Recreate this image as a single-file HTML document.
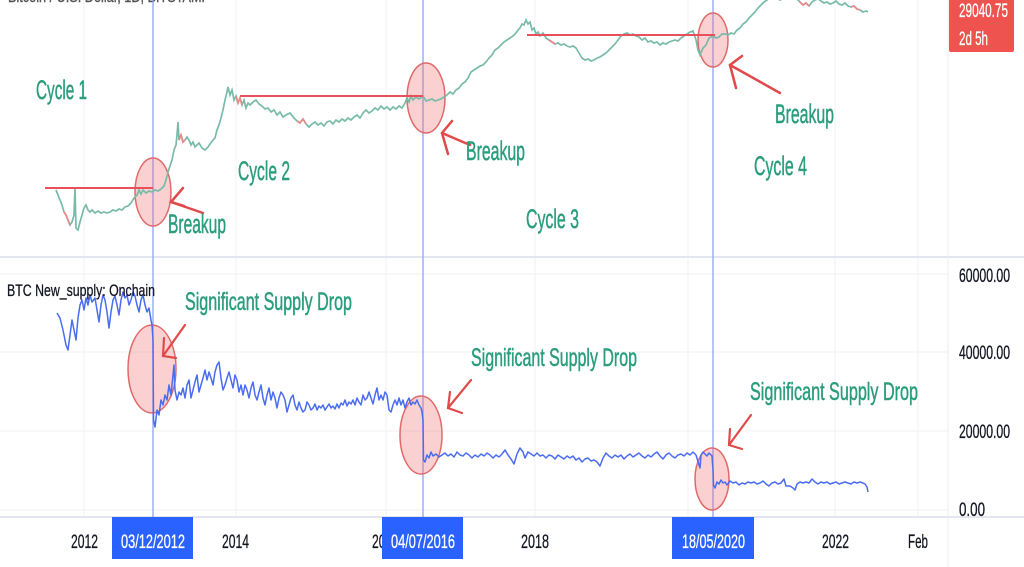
<!DOCTYPE html>
<html><head><meta charset="utf-8"><style>
html,body{margin:0;padding:0;background:#fff;width:1024px;height:567px;overflow:hidden}
svg{display:block}
text{font-family:"Liberation Sans Narrow","Liberation Sans",sans-serif}
.g{fill:#2a9d7c;font-size:27px;stroke:#2a9d7c;stroke-width:0.5}
.s{fill:#2a9d7c;font-size:25px;stroke:#2a9d7c;stroke-width:0.5}
.ax{fill:#131722;font-size:19px;stroke:#131722;stroke-width:0.3}
.w{fill:#fff;font-size:19px;stroke:#fff;stroke-width:0.3}
</style></head><body>
<svg width="1024" height="567" viewBox="0 0 1024 567" xmlns="http://www.w3.org/2000/svg">
<rect width="1024" height="567" fill="#fff"/>
<!-- grid -->
<g stroke="#f0f2f7" stroke-width="1">
<line x1="84" y1="0" x2="84" y2="517"/><line x1="236" y1="0" x2="236" y2="517"/>
<line x1="386" y1="0" x2="386" y2="517"/><line x1="535" y1="0" x2="535" y2="517"/>
<line x1="688" y1="0" x2="688" y2="517"/><line x1="835" y1="0" x2="835" y2="517"/>
<line x1="918" y1="0" x2="918" y2="517"/>
<line x1="0" y1="274" x2="948" y2="274"/><line x1="0" y1="352" x2="948" y2="352"/>
<line x1="0" y1="431" x2="948" y2="431"/><line x1="0" y1="510" x2="948" y2="510"/>
</g>
<line x1="0" y1="257" x2="1024" y2="257" stroke="#e3e6ee" stroke-width="2"/>
<line x1="0" y1="517" x2="1024" y2="517" stroke="#e3e6ee" stroke-width="2"/>
<line x1="948" y1="0" x2="948" y2="567" stroke="#eceef3" stroke-width="1"/>

<!-- title cut -->
<text x="8" y="2" font-size="16" fill="#555" stroke="#555" stroke-width="0.4" textLength="202" lengthAdjust="spacingAndGlyphs">Bitcoin / U.S. Dollar, 1D, BITSTAMP</text>

<!-- blue vertical lines -->
<g stroke="#8ea2f8" stroke-width="1.3">
<line x1="153" y1="0" x2="153" y2="517"/>
<line x1="423" y1="0" x2="423" y2="517"/>
<line x1="713" y1="0" x2="713" y2="517"/>
</g>

<!-- top circles -->
<g fill="rgba(240,110,110,0.32)" stroke="#e06a6a" stroke-width="1.5">
<ellipse cx="153" cy="192" rx="18" ry="34"/>
<ellipse cx="426" cy="98" rx="19" ry="35"/>
<ellipse cx="713" cy="40" rx="15" ry="27"/>
</g>

<!-- price line -->
<polyline fill="none" stroke="#79bba9" stroke-width="1.7" points="56,190 58,195 60,200 62,205 64,212 66,215 68,220 70,225 72,222 74,215 75,188 76,228 78,230 80,222 82,215 84,208 86,205 88,210 90,212 92,210 95,213 98,211 101,213 104,212 107,213 110,212 113,210 116,211 119,209 122,210 125,207 128,206 131,203 134,198 137,195 139,190 141,194 143,190 146,193 149,191 152,192 155,190 158,191 161,189 164,186 166,180 168,172 170,166 172,160 174,150 176,145 177,135 178,122 179,140 181,135 183,142 185,140 187,137 189,140 191,145 193,142 195,147 197,145 199,143 202,148 205,150 208,147 210,144 213,140 215,138 217,130 219,125 221,118 223,110 225,100 227,92 228,87 230,95 232,90 234,100 236,96 238,103 240,98 242,105 244,100 246,108 248,103 250,105 253,102 256,100 259,104 262,106 265,109 268,108 271,112 274,110 277,115 280,112 283,117 286,115 290,113 294,118 297,121 300,123 303,119 306,124 309,127 312,124 315,122 318,125 321,123 324,126 327,122 330,121 333,124 336,120 339,122 342,119 345,121 348,118 351,120 354,117 357,115 360,118 363,113 366,110 369,113 372,111 375,108 378,110 381,106 384,109 387,107 390,110 393,107 396,109 399,106 402,108 405,103 407,98 409,102 411,96 413,100 416,97 419,99 423,96 426,101 429,100 432,99 435,101 438,100 441,99 444,97 447,95 450,92 453,94 456,90 459,88 462,84 465,82 468,78 471,72 474,70 477,68 480,66 483,65 486,62 489,58 492,55 495,50 498,48 501,45 504,42 507,40 510,38 513,36 516,33 518,30 520,28 522,24 524,25 526,20 528,24 530,22 532,30 534,28 536,34 538,32 540,36 543,33 546,38 549,40 552,42 555,44 558,43 561,45 564,44 567,46 570,47 573,46 576,48 579,53 582,58 585,60 588,59 591,61 594,60 597,58 600,57 603,55 606,53 609,50 612,47 615,44 618,40 621,36 624,34 627,33 630,35 633,34 636,36 639,37 642,40 645,38 648,42 651,41 654,43 657,42 660,45 663,43 666,44 669,42 672,41 675,40 678,41 681,38 684,36 687,34 690,32 693,31 696,40 698,50 700,55 703,48 706,45 709,38 713,36 716,38 719,37 722,34 725,34 728,35 731,33 734,34 737,30 740,28 743,24 746,22 749,18 752,15 755,12 758,8 761,5 764,2 767,0 770,-2 775,-3 780,0 785,-2 790,-1 795,-3 800,2 803,5 806,3 809,6 812,2 815,0 818,-1 821,1 824,3 827,2 830,4 833,3 836,1 839,4 842,5 845,3 848,6 851,7 854,6 857,9 860,10 863,12 866,11 868,12"/>
<g stroke="#e88a8a" stroke-width="1.7" fill="none">
<polyline points="64,212 66,215 68,220 70,225"/>
<polyline points="179,140 181,135 183,142 185,140"/>
<polyline points="236,96 238,103 240,98 242,105"/>
<polyline points="297,121 300,123 303,119 306,124"/>
<polyline points="549,40 552,42 555,44"/>
<polyline points="800,2 803,5 806,3 809,6"/>
<polyline points="851,7 854,6 857,9 860,10"/>
</g>

<!-- red horizontal lines -->
<g stroke="#e8505b" stroke-width="2">
<line x1="45" y1="188" x2="153" y2="188"/>
<line x1="240" y1="96" x2="423" y2="96"/>
<line x1="527" y1="35" x2="715" y2="35"/>
</g>

<!-- top arrows -->
<g stroke="#e04a4a" stroke-width="2.5" fill="none" stroke-linecap="round">
<polyline points="203,213 171,202"/><polyline points="183,188 171,202 184,206"/>
<polyline points="470,145 442,133"/><polyline points="452,121 442,133 448,154"/>
<polyline points="780,93 730,65"/><polyline points="742,56 730,65 736,88"/>
</g>

<!-- top text -->
<text class="g" x="36" y="99" textLength="51" lengthAdjust="spacingAndGlyphs">Cycle 1</text>
<text class="g" x="238" y="180" textLength="52" lengthAdjust="spacingAndGlyphs">Cycle 2</text>
<text class="g" x="526" y="228" textLength="53" lengthAdjust="spacingAndGlyphs">Cycle 3</text>
<text class="g" x="754" y="175" textLength="53" lengthAdjust="spacingAndGlyphs">Cycle 4</text>
<text class="g" x="168" y="233" textLength="58" lengthAdjust="spacingAndGlyphs">Breakup</text>
<text class="g" x="466" y="160" textLength="59" lengthAdjust="spacingAndGlyphs">Breakup</text>
<text class="g" x="775" y="123" textLength="59" lengthAdjust="spacingAndGlyphs">Breakup</text>

<!-- red price label -->
<rect x="949" y="-4" width="65" height="56" rx="2" fill="#ef5350"/>
<text class="w" x="959" y="17" font-size="20" textLength="49" lengthAdjust="spacingAndGlyphs">29040.75</text>
<text class="w" x="959" y="45" font-size="19" textLength="29" lengthAdjust="spacingAndGlyphs">2d 5h</text>

<!-- bottom circles -->
<g fill="rgba(240,110,110,0.32)" stroke="#e06a6a" stroke-width="1.5">
<ellipse cx="152" cy="369" rx="24" ry="44"/>
<ellipse cx="421" cy="435" rx="21" ry="39"/>
<ellipse cx="712" cy="479" rx="17" ry="31"/>
</g>

<!-- supply line -->
<polyline fill="none" stroke="#4a6cf0" stroke-width="1.5" stroke-linejoin="round" points="57,313 60,318 63,330 66,345 68,350 70,335 72,320 74,330 76,340 78,318 80,305 82,300 84,310 86,298 88,305 90,295 92,302 95,298 97,310 99,322 101,305 103,295 105,300 107,312 109,328 111,312 113,300 115,296 117,305 119,315 121,300 123,292 125,298 127,295 129,305 131,300 133,292 135,296 137,305 139,312 141,300 143,295 145,305 147,312 149,308 151,320 152,325 153,340 153.5,420 155,427 157,410 159,415 161,400 163,405 165,395 167,400 169,385 171,395 173,375 174,365 175,390 177,400 179,392 181,395 183,388 185,398 187,385 189,380 191,398 193,390 195,382 197,375 199,392 201,385 203,378 205,370 207,380 209,372 211,378 213,385 215,372 217,365 219,362 221,378 223,390 225,385 227,378 229,372 231,380 233,388 235,375 237,380 239,392 241,385 243,395 245,385 247,390 249,398 251,388 253,382 255,395 257,400 259,392 261,385 263,398 265,405 267,395 269,388 271,400 273,392 275,398 277,408 279,398 281,392 283,395 285,400 287,412 289,405 291,398 293,395 295,405 297,410 299,402 301,408 303,412 305,410 307,402 309,405 311,410 313,408 315,404 317,410 319,406 321,408 323,405 325,410 327,407 329,404 331,408 333,406 335,409 337,404 339,408 341,403 343,405 345,400 347,406 349,402 351,404 353,400 355,405 357,398 359,402 361,405 363,395 365,400 367,398 369,392 371,398 373,404 375,395 377,388 379,400 381,395 383,400 385,392 387,395 389,410 391,412 393,405 395,400 397,405 399,398 401,405 403,400 405,408 407,402 409,398 411,405 413,402 415,404 417,400 419,405 421,408 422,412 423,420 423.5,460 425,462 427,455 429,458 431,452 433,456 436,454 439,457 442,455 445,453 448,456 451,454 454,457 457,452 460,455 463,456 466,453 469,455 472,458 475,455 478,457 481,454 484,456 487,453 490,455 493,458 496,455 499,457 502,454 505,450 508,455 511,459 514,464 517,454 520,448 523,452 525,458 528,452 531,454 534,456 537,453 540,456 543,455 546,458 549,455 552,456 555,459 558,455 561,457 564,459 567,456 570,458 573,456 576,460 579,458 582,462 585,459 588,458 591,461 594,460 597,462 600,466 603,458 606,453 609,456 612,458 615,455 618,457 621,455 624,459 627,456 630,454 633,457 636,455 639,453 642,456 645,458 648,455 651,457 654,454 657,452 660,456 663,459 666,455 669,453 672,456 675,458 678,455 681,454 684,456 687,453 690,455 693,452 696,455 699,465 700,468 701,455 703,452 705,454 707,456 709,453 711,455 712,456 713,470 713.5,485 715,488 717,482 719,484 721,480 723,483 725,482 727,485 730,481 733,483 736,482 739,485 742,483 745,484 748,482 751,483 754,482 757,484 760,483 763,481 766,484 769,486 772,483 775,482 778,484 781,483 784,479 786,486 790,486 793,488 795,490 797,484 800,482 803,483 806,482 809,483 812,479 815,482 818,484 821,482 824,483 827,482 830,484 833,483 836,482 839,484 842,483 845,482 848,483 851,484 854,482 857,483 860,482 863,483 865,484 867,487 868,492"/>

<!-- bottom arrows -->
<g stroke="#e04a4a" stroke-width="2.2" fill="none" stroke-linecap="round">
<polyline points="185,325 163,356"/><polyline points="164,338 163,356 176,358"/>
<polyline points="471,380 448,408"/><polyline points="450,392 448,408 462,413"/>
<polyline points="751,415 729,445"/><polyline points="730,429 729,445 742,449"/>
</g>

<text x="7" y="296" font-size="17" fill="#131722" stroke="#131722" stroke-width="0.3" textLength="148" lengthAdjust="spacingAndGlyphs">BTC New_supply: Onchain</text>
<text class="s" x="185" y="310" textLength="167" lengthAdjust="spacingAndGlyphs">Significant Supply Drop</text>
<text class="s" x="471" y="366" textLength="166" lengthAdjust="spacingAndGlyphs">Significant Supply Drop</text>
<text class="s" x="750" y="400" textLength="168" lengthAdjust="spacingAndGlyphs">Significant Supply Drop</text>

<!-- y axis labels -->
<text class="ax" x="959" y="282" textLength="51" lengthAdjust="spacingAndGlyphs">60000.00</text>
<text class="ax" x="959" y="359" textLength="51" lengthAdjust="spacingAndGlyphs">40000.00</text>
<text class="ax" x="959" y="438" textLength="51" lengthAdjust="spacingAndGlyphs">20000.00</text>
<text class="ax" x="959" y="516" textLength="26" lengthAdjust="spacingAndGlyphs">0.00</text>

<!-- x axis labels -->
<text class="ax" x="71" y="548" textLength="27" lengthAdjust="spacingAndGlyphs">2012</text>
<text class="ax" x="222" y="548" textLength="27" lengthAdjust="spacingAndGlyphs">2014</text>
<text class="ax" x="372" y="548" textLength="27" lengthAdjust="spacingAndGlyphs">2016</text>
<text class="ax" x="521" y="548" textLength="28" lengthAdjust="spacingAndGlyphs">2018</text>
<text class="ax" x="822" y="548" textLength="27" lengthAdjust="spacingAndGlyphs">2022</text>
<text class="ax" x="908" y="548" textLength="20" lengthAdjust="spacingAndGlyphs">Feb</text>

<!-- date boxes -->
<rect x="112" y="517" width="81" height="42" fill="#2962ff"/>
<rect x="382" y="517" width="81" height="42" fill="#2962ff"/>
<rect x="672" y="517" width="82" height="42" fill="#2962ff"/>
<text class="w" x="121" y="548" textLength="64" lengthAdjust="spacingAndGlyphs">03/12/2012</text>
<text class="w" x="391" y="548" textLength="64" lengthAdjust="spacingAndGlyphs">04/07/2016</text>
<text class="w" x="682" y="548" textLength="63" lengthAdjust="spacingAndGlyphs">18/05/2020</text>
</svg>
</body></html>
